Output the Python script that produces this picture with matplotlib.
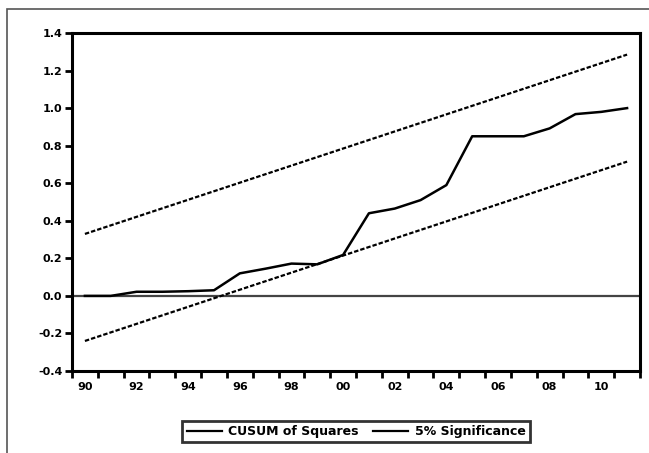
import numpy as np
import matplotlib
matplotlib.use("Agg")
import matplotlib.pyplot as plt
from matplotlib.patches import Rectangle

# CUSUM of squares values, 1990-2011
years = np.arange(1990, 2012)
cusum_sq = [0.0, 0.0, 0.022, 0.022, 0.025, 0.03, 0.12, 0.145, 0.172, 0.168,
            0.218, 0.44, 0.465, 0.51, 0.59, 0.85, 0.85, 0.85, 0.892, 0.968,
            0.98, 1.0]

# 5% significance bounds (straight lines, endpoints)
sig_years = [1990, 2011]
sig_upper = [0.33, 1.285]
sig_lower = [-0.24, 0.715]

xtick_years = list(range(1990, 2011, 2))
xtick_labels = ["90", "92", "94", "96", "98", "00", "02", "04", "06", "08", "10"]
yticks = [-0.4, -0.2, 0.0, 0.2, 0.4, 0.6, 0.8, 1.0, 1.2, 1.4]

plt.rcParams["font.family"] = ["DejaVu Sans"]

fig = plt.figure(figsize=(6.49, 4.53), dpi=100)
# outer frame (left and top edges visible)
fig.patches.append(Rectangle((7 / 649, -0.1), 1.2, 1 - 9 / 453 + 0.1,
                             transform=fig.transFigure, fill=False,
                             edgecolor="#555555", lw=1.2))

ax = fig.add_axes([72 / 649, 1 - 371 / 453, 568 / 649, 338 / 453])

ax.axhline(0, color="#444444", lw=1.6, zorder=1)
ax.plot(years, cusum_sq, color="black", lw=1.8, label="CUSUM of Squares", zorder=3)
ax.plot(sig_years, sig_upper, color="black", lw=1.6, ls=(0, (2.0, 0.9)),
        label="5% Significance", zorder=2)
ax.plot(sig_years, sig_lower, color="black", lw=1.6, ls=(0, (2.0, 0.9)), zorder=2)

ax.set_xlim(1989.5, 2011.5)
ax.set_ylim(-0.4, 1.4)

ax.set_xticks(xtick_years)
ax.set_xticklabels(xtick_labels)
ax.set_xticks(np.arange(1989.5, 2012, 1.0), minor=True)
ax.tick_params(axis="x", which="major", length=0, pad=8)
ax.tick_params(axis="x", which="minor", length=5, width=2, direction="out")

ax.set_yticks(yticks)
ax.set_yticklabels([f"{v:.1f}" for v in yticks])
ax.tick_params(axis="y", length=5, width=2, direction="out", pad=2)

for lab in ax.get_xticklabels() + ax.get_yticklabels():
    lab.set_fontsize(8)
    lab.set_fontweight("bold")

for sp in ax.spines.values():
    sp.set_linewidth(2.2)

legend_handles = [plt.Line2D([], [], color="black", lw=1.6),
                  plt.Line2D([], [], color="black", lw=1.6)]
leg = ax.legend(legend_handles, ["CUSUM of Squares", "5% Significance"],
                loc="center", bbox_to_anchor=(0.5, -0.179), ncol=2,
                frameon=True, fancybox=False, edgecolor="black",
                handlelength=2.8, handletextpad=0.5, columnspacing=1.2,
                borderpad=0.35, borderaxespad=0,
                prop={"size": 9, "weight": "bold"})
leg.get_frame().set_linewidth(2)

fig.savefig("out.png", dpi=100)
